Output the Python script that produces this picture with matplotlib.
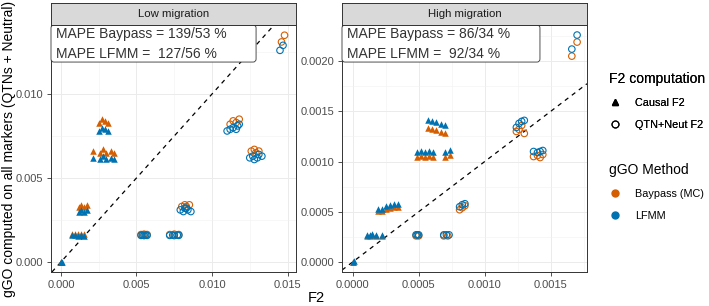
import numpy as np
import matplotlib
matplotlib.use("Agg")
import matplotlib.pyplot as plt
from matplotlib.lines import Line2D
from matplotlib.patches import FancyBboxPatch
from matplotlib.ticker import MultipleLocator

plt.rcParams['font.family'] = ['Liberation Sans', 'DejaVu Sans']

ORANGE = '#D55E00'
BLUE = '#0072B2'

# ---- Low migration ----
low_causal_lfmm_x = [0.0, 0.00003, 0.00006,
                     0.0007, 0.0009, 0.0011, 0.0013, 0.0015,
                     0.0012, 0.0013, 0.0015, 0.0017,
                     0.0021, 0.0026, 0.0028, 0.0030, 0.0033, 0.0035,
                     0.0025, 0.0027, 0.0029, 0.0031]
low_causal_lfmm_y = [0.0, 0.00002, -0.00001,
                     0.00158, 0.00158, 0.00157, 0.00159, 0.00157,
                     0.0030, 0.0031, 0.0030, 0.0031,
                     0.0062, 0.0061, 0.0063, 0.0061, 0.0062, 0.0061,
                     0.0078, 0.0080, 0.0079, 0.0078]
low_causal_bay_x = [0.0, 0.00003,
                    0.0007, 0.0009, 0.0011, 0.0013, 0.0015,
                    0.0012, 0.0013, 0.0015, 0.0017,
                    0.0021, 0.0026, 0.0028, 0.0030, 0.0033, 0.0035,
                    0.0025, 0.0027, 0.0029, 0.0031]
low_causal_bay_y = [0.0, 0.00002,
                    0.00165, 0.00166, 0.00164, 0.00166, 0.00165,
                    0.0033, 0.0034, 0.0033, 0.0034,
                    0.0066, 0.0065, 0.0067, 0.0065, 0.0066, 0.0065,
                    0.0083, 0.0085, 0.0084, 0.0083]
low_neut_lfmm_x = [0.0053, 0.0054, 0.0055, 0.0056, 0.0057,
                   0.0072, 0.0074, 0.0075, 0.0077, 0.0078,
                   0.0079, 0.0081, 0.0082, 0.0084, 0.0086, 0.0083,
                   0.0110, 0.0112, 0.0114, 0.0116, 0.0117, 0.0118,
                   0.0125, 0.0127, 0.0128, 0.0130, 0.0131, 0.0133,
                   0.0145, 0.0147]
low_neut_lfmm_y = [0.00158, 0.0016, 0.00157, 0.0016, 0.00158,
                   0.00158, 0.0016, 0.00157, 0.0016, 0.00158,
                   0.0031, 0.0030, 0.0032, 0.0031, 0.0030, 0.0032,
                   0.0078, 0.0079, 0.0080, 0.0079, 0.0081, 0.0082,
                   0.0062, 0.0063, 0.0061, 0.0062, 0.0064, 0.0063,
                   0.0126, 0.0129]
low_neut_bay_x = [0.0053, 0.0055, 0.0057,
                  0.0072, 0.0075, 0.0078,
                  0.0080, 0.0082, 0.0083, 0.0085,
                  0.0112, 0.0114, 0.0116, 0.0118,
                  0.0126, 0.0128, 0.0129, 0.0131,
                  0.0146, 0.0148]
low_neut_bay_y = [0.00163, 0.00165, 0.00163,
                  0.00163, 0.00165, 0.00163,
                  0.0033, 0.0034, 0.0033, 0.0034,
                  0.0082, 0.0084, 0.0083, 0.0085,
                  0.0066, 0.0067, 0.0065, 0.0066,
                  0.0131, 0.0135]

# ---- High migration ----
high_causal_lfmm_x = [0.0, 0.00001,
                      0.00011, 0.00013, 0.00015, 0.00018, 0.00022,
                      0.00019, 0.00022, 0.00025, 0.00028, 0.00031, 0.00034,
                      0.00049, 0.00052, 0.00055, 0.00058, 0.00061, 0.00070, 0.00074,
                      0.00057, 0.00060, 0.00063, 0.00067, 0.00070]
high_causal_lfmm_y = [0.0, 0.000005,
                      0.00027, 0.00027, 0.00028, 0.00027, 0.00027,
                      0.00053, 0.00053, 0.00056, 0.00057, 0.00058, 0.00058,
                      0.00110, 0.00111, 0.00110, 0.00111, 0.00110, 0.00110, 0.00112,
                      0.00141, 0.00140, 0.00139, 0.00137, 0.00136]
high_causal_bay_x = [0.0,
                     0.00011, 0.00013, 0.00015, 0.00018, 0.00022,
                     0.00019, 0.00022, 0.00025, 0.00028, 0.00031, 0.00034,
                     0.00049, 0.00052, 0.00055, 0.00058, 0.00061, 0.00070, 0.00074,
                     0.00057, 0.00060, 0.00063, 0.00067, 0.00070]
high_causal_bay_y = [0.0,
                     0.00026, 0.00026, 0.00027, 0.00026, 0.00026,
                     0.00051, 0.00051, 0.00053, 0.00054, 0.00055, 0.00055,
                     0.00105, 0.00106, 0.00105, 0.00106, 0.00105, 0.00105, 0.00107,
                     0.00133, 0.00132, 0.00131, 0.00129, 0.00128]
high_neut_lfmm_x = [0.00048, 0.00049, 0.00050,
                    0.00069, 0.00071, 0.00073,
                    0.00081, 0.00083, 0.00085,
                    0.00124, 0.00126, 0.00128, 0.00130,
                    0.00137, 0.00140, 0.00142, 0.00144,
                    0.00166, 0.00170]
high_neut_lfmm_y = [0.00027, 0.00027, 0.00027,
                    0.00027, 0.00027, 0.00027,
                    0.00055, 0.00057, 0.00058,
                    0.00134, 0.00138, 0.00140, 0.00141,
                    0.00110, 0.00109, 0.00110, 0.00111,
                    0.00212, 0.00226]
high_neut_bay_x = [0.00048, 0.00050,
                   0.00069, 0.00072,
                   0.00081, 0.00083, 0.00085,
                   0.00124, 0.00126, 0.00128, 0.00130,
                   0.00137, 0.00140, 0.00142, 0.00144,
                   0.00166, 0.00170]
high_neut_bay_y = [0.00026, 0.00026,
                   0.00026, 0.00026,
                   0.00052, 0.00054, 0.00056,
                   0.00130, 0.00132, 0.00136, 0.00128,
                   0.00105, 0.00106, 0.00104, 0.00107,
                   0.00205, 0.00219]

panel_titles = ['Low migration', 'High migration']
mape_bay = ['MAPE Baypass = 139/53 %', 'MAPE Baypass = 86/34 %']
mape_lfmm = ['MAPE LFMM =  127/56 %', 'MAPE LFMM =  92/34 %']

W, H = 709, 306
fig = plt.figure(figsize=(W / 100, H / 100), dpi=100)


def px_axes(x0, y0, x1, y1):
    return fig.add_axes([x0 / W, 1 - y1 / H, (x1 - x0) / W, (y1 - y0) / H])


def style_axes(ax, major, minor, xlim, ylim, fmt):
    ax.set_xlim(*xlim)
    ax.set_ylim(*ylim)
    ax.xaxis.set_major_locator(MultipleLocator(major))
    ax.yaxis.set_major_locator(MultipleLocator(major))
    ax.xaxis.set_minor_locator(MultipleLocator(minor))
    ax.yaxis.set_minor_locator(MultipleLocator(minor))
    ax.xaxis.set_major_formatter(plt.FuncFormatter(lambda v, p: fmt.format(v)))
    ax.yaxis.set_major_formatter(plt.FuncFormatter(lambda v, p: fmt.format(v)))
    ax.grid(which='major', color='#EBEBEB', lw=0.7)
    ax.grid(which='minor', color='#F2F2F2', lw=0.4)
    ax.set_axisbelow(True)
    ax.tick_params(which='major', direction='out', length=3, width=0.6,
                   color='#333333', labelcolor='#4D4D4D', labelsize=8, pad=2.5)
    ax.tick_params(which='minor', length=0)
    for s in ax.spines.values():
        s.set_color('#333333')
        s.set_linewidth(0.7)


panels = [
    dict(x=(51, 296), lim_x=(-0.00066, 0.01556), lim_y=(-0.0006, 0.01411),
         major=0.005, minor=0.0025, fmt='{:.3f}', box_w=0.837,
         cl=(low_causal_lfmm_x, low_causal_lfmm_y), cb=(low_causal_bay_x, low_causal_bay_y),
         nl=(low_neut_lfmm_x, low_neut_lfmm_y), nb=(low_neut_bay_x, low_neut_bay_y)),
    dict(x=(342, 587), lim_x=(-0.000081, 0.001775), lim_y=(-0.0001, 0.00236),
         major=0.0005, minor=0.00025, fmt='{:.4f}', box_w=0.808,
         cl=(high_causal_lfmm_x, high_causal_lfmm_y), cb=(high_causal_bay_x, high_causal_bay_y),
         nl=(high_neut_lfmm_x, high_neut_lfmm_y), nb=(high_neut_bay_x, high_neut_bay_y)),
]

for i, p in enumerate(panels):
    x0, x1 = p['x']
    ax = px_axes(x0, 25, x1, 272)
    style_axes(ax, p['major'], p['minor'], p['lim_x'], p['lim_y'], p['fmt'])
    ax.axline((0, 0), slope=1, color='black', lw=0.9, ls=(0, (3.5, 3.5)), zorder=1)
    ax.scatter(*p['cb'], marker='^', s=22, color=ORANGE, lw=0, zorder=2)
    ax.scatter(*p['cl'], marker='^', s=22, color=BLUE, lw=0, zorder=3)
    ax.scatter(*p['nb'], marker='o', s=22, facecolors='none', edgecolors=ORANGE, lw=0.8, zorder=2)
    ax.scatter(*p['nl'], marker='o', s=22, facecolors='none', edgecolors=BLUE, lw=0.8, zorder=3)

    box = FancyBboxPatch((0, 0.85), p['box_w'], 0.15, transform=ax.transAxes,
                         boxstyle='round,pad=0,rounding_size=0.012',
                         facecolor='white', edgecolor='#333333', lw=0.6, zorder=5,
                         clip_on=False)
    ax.add_patch(box)
    ax.text(0.02, 0.963, mape_bay[i], transform=ax.transAxes, fontsize=10,
            color='#333333', va='center', ha='left', zorder=6)
    ax.text(0.02, 0.882, mape_lfmm[i], transform=ax.transAxes, fontsize=10,
            color='#333333', va='center', ha='left', zorder=6)

    strip = px_axes(x0, 3, x1, 25)
    strip.set_facecolor('#D9D9D9')
    strip.set_xticks([])
    strip.set_yticks([])
    for s in strip.spines.values():
        s.set_color('#333333')
        s.set_linewidth(0.7)
    strip.text(0.5, 0.5, panel_titles[i], transform=strip.transAxes, fontsize=8.2,
               color='#1A1A1A', ha='center', va='center')

fig.text(9 / W, 1 - 149 / H, 'gGO computed on all markers (QTNs + Neutral)',
         rotation=90, fontsize=10, ha='center', va='center')
fig.text(316 / W, 1 - 298 / H, 'F2', fontsize=10.5, ha='center', va='center')

h1 = [Line2D([], [], marker='^', color='black', ls='none', markersize=5),
      Line2D([], [], marker='o', markerfacecolor='none', markeredgecolor='black',
             ls='none', markersize=5, markeredgewidth=0.8)]
leg1 = fig.legend(h1, ['Causal F2', 'QTN+Neut F2'], title='F2 computation',
                  loc='upper left', bbox_to_anchor=(599 / W, 1 - 62 / H),
                  frameon=False, fontsize=7.8, title_fontsize=10, alignment='left',
                  handlelength=1.2, handletextpad=1.2, labelspacing=1.1)
h2 = [Line2D([], [], marker='o', color=ORANGE, ls='none', markersize=5),
      Line2D([], [], marker='o', color=BLUE, ls='none', markersize=5)]
leg2 = fig.legend(h2, ['Baypass (MC)', 'LFMM'], title='gGO Method',
                  loc='upper left', bbox_to_anchor=(599 / W, 1 - 153 / H),
                  frameon=False, fontsize=7.8, title_fontsize=10, alignment='left',
                  handlelength=1.2, handletextpad=1.2, labelspacing=1.1)
fig.add_artist(leg1)

fig.savefig('out.png', dpi=100)
